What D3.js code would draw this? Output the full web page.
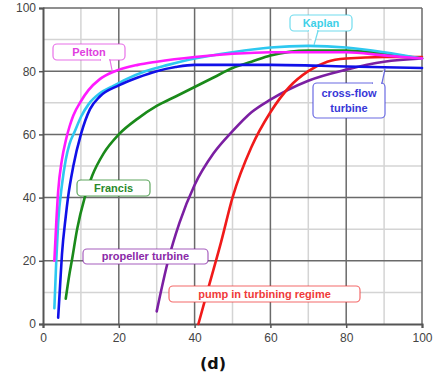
<!DOCTYPE html>
<html>
<head>
<meta charset="utf-8">
<script src="https://cdn.jsdelivr.net/npm/d3@7"></script>
<style>
  body { margin: 0; background: #fff; }
  svg { display: block; }
</style>
</head>
<body>
<svg width="446" height="383"></svg>
<script>
// efficiency (%) vs load (%) for each turbine type
var pelton     = [[3,20],[3.5,32],[4,42],[5,52],[6,58],[7,62.5],[8,66],[10,70.5],[12,74],[15,77.5],[19,80],[25,82],[30,83],[40,84.5],[50,85.5],[60,86],[80,86],[90,85],[100,84]];
var kaplan     = [[3,5],[3.5,20],[4,32],[5,44],[6,52],[7,57],[8.4,61],[10,65.5],[12,69.5],[15,73],[18,75],[22,77.5],[27,80],[33,82],[40,84],[50,86],[60,87.5],[70,88],[80,87.5],[90,86],[100,84]];
var crossflow  = [[4,2],[4.5,12],[5,22],[6,34],[6.6,40],[8,50],[10,60],[12.4,68],[15,72],[20,75.5],[25,78],[30,80],[35,81.3],[40,82],[60,82],[80,81.5],[100,81]];
var francis    = [[6,8],[7,16],[7.6,20],[9,30],[11,40],[13,47],[16,54],[20,60],[25,65],[30,69],[35,72],[40,75],[45,78],[50,81],[55,83],[60,85],[70,86.5],[80,86.5],[90,85.5],[100,84]];
var propeller  = [[30,4],[33,20],[36,32],[40,44],[45,54],[50,61],[55,67],[60,71],[70,77],[80,80.5],[90,83],[100,84]];
var pump       = [[41,0],[44,13],[47,26],[50,40],[55,56],[60,67],[65,75],[70,80],[75,83],[80,84],[90,84.5],[100,84.5]];

var xTicks = [0, 20, 40, 60, 80, 100];
var yTicks = [0, 20, 40, 60, 80, 100];

var series = [
  {name: "propeller", data: propeller, color: "#7b1fa2"},
  {name: "pump", data: pump, color: "#f01a1a"},
  {name: "francis", data: francis, color: "#1a8a1a"},
  {name: "kaplan", data: kaplan, color: "#2ec8f0"},
  {name: "crossflow", data: crossflow, color: "#1010e8"},
  {name: "pelton", data: pelton, color: "#ff1aff"}
];

var svg = d3.select("svg");
var x = d3.scaleLinear().domain([0, 100]).range([43, 422]);
var y = d3.scaleLinear().domain([0, 100]).range([324, 8]);

// grid
var minor = d3.range(10, 100, 20);
svg.append("g").selectAll("line").data(minor).join("line")
  .attr("x1", d => x(d)).attr("x2", d => x(d)).attr("y1", y(0)).attr("y2", y(100))
  .attr("stroke", "#d4d4d4").attr("stroke-width", 1.5);
svg.append("g").selectAll("line").data(minor).join("line")
  .attr("y1", d => y(d)).attr("y2", d => y(d)).attr("x1", x(0)).attr("x2", x(100))
  .attr("stroke", "#d4d4d4").attr("stroke-width", 1.5);
svg.append("g").selectAll("line").data(xTicks.slice(1)).join("line")
  .attr("x1", d => x(d)).attr("x2", d => x(d)).attr("y1", y(0)).attr("y2", y(100))
  .attr("stroke", "#6a6a6a").attr("stroke-width", 1.5);
svg.append("g").selectAll("line").data(yTicks.slice(1)).join("line")
  .attr("y1", d => y(d)).attr("y2", d => y(d)).attr("x1", x(0)).attr("x2", x(100))
  .attr("stroke", "#6a6a6a").attr("stroke-width", 1.5);

// axes
var xAxis = svg.append("g").attr("transform", "translate(0," + y(0) + ")")
  .call(d3.axisBottom(x).tickValues(xTicks).tickSize(4).tickPadding(5));
var yAxis = svg.append("g").attr("transform", "translate(" + x(0) + ",0)")
  .call(d3.axisLeft(y).tickValues(yTicks).tickSize(4).tickPadding(3));
[xAxis, yAxis].forEach(function(a) {
  a.select(".domain").attr("stroke", "#555").attr("stroke-width", 2);
  a.selectAll(".tick line").attr("stroke", "#555").attr("stroke-width", 1.5);
  a.selectAll("text").attr("font-family", "Arial, Liberation Sans, sans-serif")
    .attr("font-size", 12).attr("fill", "#444");
});

// curves
var line = d3.line().x(d => x(d[0])).y(d => y(d[1])).curve(d3.curveMonotoneX);
svg.append("g").selectAll("path").data(series).join("path")
  .attr("d", d => line(d.data))
  .attr("fill", "none")
  .attr("stroke", d => d.color)
  .attr("stroke-width", 2.6)
  .attr("stroke-linecap", "round");

// callout labels
var labels = [
  {lines: ["Pelton"], box: [53, 44, 72, 16], color: "#e040e0", tail: [[100, 60], [110, 60], [112, 70]]},
  {lines: ["Kaplan"], box: [290, 15, 62, 16], color: "#40d0e8", tail: [[308, 31], [318, 31], [314, 45]]},
  {lines: ["cross-flow", "turbine"], box: [313, 83, 72, 35], color: "#3838d8", tail: [[372, 83], [382, 83], [385, 69]]},
  {lines: ["Francis"], box: [77, 180, 73, 16], color: "#2a8a2a"},
  {lines: ["propeller turbine"], box: [83, 249, 125, 15], color: "#8a2aa8"},
  {lines: ["pump in turbining regime"], box: [169, 286, 191, 16], color: "#f03a3a"}
];

labels.forEach(function(l) {
  var g = svg.append("g");
  var b = l.box;
  g.append("rect").attr("x", b[0]).attr("y", b[1]).attr("width", b[2]).attr("height", b[3])
    .attr("rx", 4).attr("fill", "#fff").attr("stroke", l.color).attr("stroke-opacity", 0.75)
    .attr("stroke-width", 1.2);
  if (l.tail) {
    g.append("path").attr("d", d3.line()(l.tail))
      .attr("fill", "#fff").attr("stroke", l.color).attr("stroke-opacity", 0.75).attr("stroke-width", 1.2);
    g.append("line").attr("x1", l.tail[0][0] + 1).attr("x2", l.tail[1][0] - 1)
      .attr("y1", l.tail[0][1]).attr("y2", l.tail[1][1])
      .attr("stroke", "#fff").attr("stroke-width", 2);
  }
  var lh = 15;
  var y0 = b[1] + b[3] / 2 - (l.lines.length - 1) * lh / 2;
  l.lines.forEach(function(t, i) {
    g.append("text").attr("x", b[0] + b[2] / 2).attr("y", y0 + i * lh)
      .attr("dy", "0.35em").attr("text-anchor", "middle")
      .attr("font-family", "Arial, Liberation Sans, sans-serif").attr("font-weight", "bold")
      .attr("font-size", 11).attr("fill", l.color).text(t);
  });
});

svg.append("text").attr("x", 213).attr("y", 369).attr("text-anchor", "middle")
  .attr("font-family", "DejaVu Sans, sans-serif").attr("font-weight", "bold")
  .attr("font-size", 16).attr("fill", "#111").text("(d)");
</script>
</body>
</html>
